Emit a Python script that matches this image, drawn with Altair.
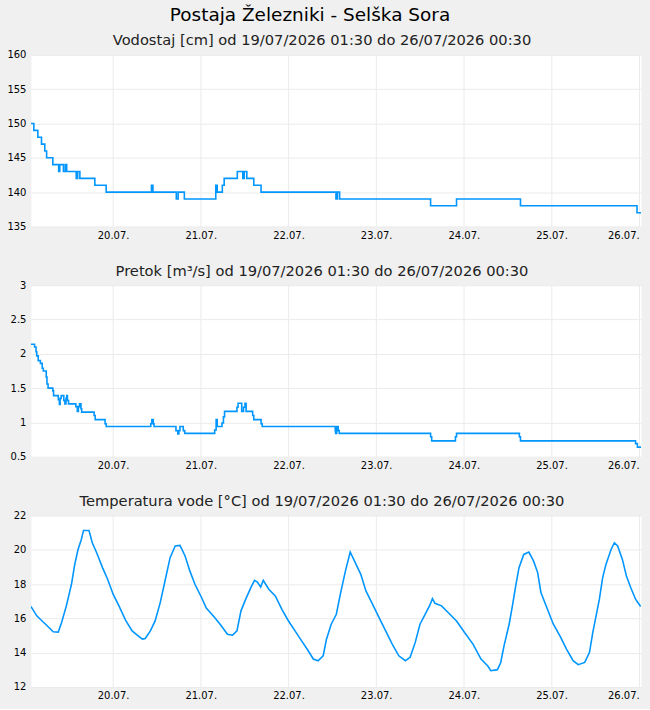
import altair as alt
import pandas as pd

START = "2026-07-19 01:30"

main_title = "Postaja Železniki - Selška Sora"
period = "od 19/07/2026 01:30 do 26/07/2026 00:30"
level_title = "Vodostaj [cm] " + period
flow_title = "Pretok [m³/s] " + period
temp_title = "Temperatura vode [°C] " + period

tick_days = [20, 21, 22, 23, 24, 25, 26]
level_ticks = [135, 140, 145, 150, 155, 160]
flow_ticks = [0.5, 1, 1.5, 2, 2.5, 3]
temp_ticks = [12, 14, 16, 18, 20, 22]

# Water level [cm]: change points (hours since start) and values
level_hours = [0.0, 0.8, 1.9, 2.9, 3.8, 4.3, 6.0, 7.6, 7.9, 8.9, 9.4, 9.8,
               12.4, 12.8, 13.4, 17.5, 20.6, 33.0, 33.4, 39.8, 40.3, 42.0,
               50.6, 51.0, 52.4, 52.9, 56.5, 58.0, 58.4, 59.1, 61.0, 63.0,
               83.5, 83.9, 84.5, 109.4, 116.5, 134.0, 165.9, 167.0]
level_values = [150, 149, 148, 147, 146, 145, 144, 143, 144, 143, 144, 143,
                142, 143, 142, 141, 140, 141, 140, 139, 140, 139,
                141, 140, 141, 142, 143, 142, 143, 142, 141, 140,
                139, 140, 139, 138, 139, 138, 137, 137]

# Discharge [m3/s]
flow_hours = [0.0, 1.0, 1.4, 1.6, 2.0, 2.6, 3.1, 3.4, 4.2, 4.4, 4.7, 6.0,
              6.2, 7.5, 7.8, 8.0, 8.3, 9.0, 9.3, 9.6, 9.8, 10.0, 10.3,
              12.3, 12.7, 13.0, 13.3, 13.7, 13.9, 17.3, 17.6, 20.3, 20.6,
              32.8, 33.1, 33.5, 33.7, 39.7, 40.2, 40.5, 40.8, 41.7, 42.1,
              50.3, 50.7, 51.0, 52.3, 52.7, 53.0, 56.4, 56.7, 57.7, 58.2,
              58.6, 58.9, 60.7, 61.0, 63.0, 63.3, 83.3, 83.4, 83.7, 84.1,
              84.4, 109.4, 109.7, 116.2, 116.5, 133.7, 134.0, 165.5, 166.0,
              167.0]
flow_values = [2.14, 2.10, 2.03, 1.97, 1.90, 1.86, 1.79, 1.75, 1.66, 1.56,
               1.50, 1.46, 1.39, 1.33, 1.26, 1.35, 1.39, 1.32, 1.27, 1.35,
               1.39, 1.32, 1.27, 1.23, 1.16, 1.23, 1.27, 1.20, 1.15, 1.10,
               1.04, 0.98, 0.94, 0.98, 1.04, 0.98, 0.94, 0.88, 0.83, 0.88,
               0.94, 0.88, 0.84, 0.89, 1.04, 0.94, 0.99, 1.08, 1.16, 1.22,
               1.28, 1.16, 1.22, 1.28, 1.16, 1.10, 1.04, 0.98, 0.94, 0.88,
               0.84, 0.94, 0.88, 0.84, 0.79, 0.73, 0.79, 0.84, 0.79, 0.73,
               0.69, 0.64, 0.64]

# Water temperature [°C]
temp_hours = [0.0, 1.6, 3.0, 4.3, 6.1, 7.5, 8.4, 9.7, 11.1, 12.0, 12.9,
              13.8, 14.4, 15.9, 16.8, 18.0, 19.6, 21.0, 22.5, 24.1, 25.9,
              27.7, 29.1, 30.5, 31.3, 32.7, 34.0, 35.4, 36.7, 38.1, 39.5,
              40.8, 42.2, 43.5, 44.9, 46.7, 48.0, 50.3, 52.1, 53.8, 55.2,
              56.4, 57.5, 58.8, 60.2, 61.2, 62.0, 62.9, 63.6, 65.1, 66.9,
              68.7, 70.5, 72.3, 74.1, 75.9, 77.3, 78.6, 80.0, 80.9, 82.2,
              83.6, 84.7, 86.1, 87.4, 89.0, 90.3, 91.7, 93.5, 95.3, 97.1,
              98.9, 100.7, 102.5, 103.8, 105.2, 106.5, 107.9, 109.2, 109.9,
              110.6, 112.4, 114.2, 116.5, 118.7, 121.0, 123.2, 125.0, 125.9,
              127.7, 128.6, 129.5, 130.9, 131.8, 132.7, 133.6, 134.9, 136.3,
              137.6, 138.7, 139.6, 141.2, 143.0, 144.8, 146.6, 148.4, 149.8,
              151.6, 152.9, 153.8, 154.7, 155.6, 156.5, 157.4, 158.8, 159.7,
              160.6, 161.9, 163.0, 164.2, 165.5, 166.9]
temp_values = [16.7, 16.15, 15.86, 15.6, 15.22, 15.2, 15.76, 16.73, 17.99,
               19.15, 20.02, 20.6, 21.13, 21.13, 20.41, 19.83, 18.96, 18.28,
               17.41, 16.73, 15.9, 15.27, 15.02, 14.79, 14.83, 15.27, 15.85,
               16.92, 18.18, 19.54, 20.22, 20.26, 19.64, 18.77, 17.99, 17.22,
               16.6, 16.05, 15.57, 15.08, 15.02, 15.27, 16.44, 17.12, 17.79,
               18.22, 18.12, 17.83, 18.22, 17.7, 17.31, 16.53, 15.85, 15.27,
               14.69, 14.11, 13.63, 13.53, 13.82, 14.79, 15.66, 16.24, 17.41,
               18.77, 19.87, 19.15, 18.57, 17.6, 16.83, 16.05, 15.27, 14.5,
               13.82, 13.53, 13.73, 14.6, 15.66, 16.24, 16.77, 17.15, 16.88,
               16.73, 16.34, 15.85, 15.18, 14.5, 13.63, 13.24, 12.95, 13.01,
               13.43, 14.4, 15.66, 16.73, 17.89, 18.96, 19.73, 19.87, 19.34,
               18.67, 17.51, 16.63, 15.66, 14.98, 14.21, 13.53, 13.3, 13.43,
               14.02, 15.18, 16.15, 17.12, 18.38, 19.15, 20.02, 20.41, 20.22,
               19.44, 18.47, 17.79, 17.12, 16.69]

BLUE = "#0096ff"
FONT = "DejaVu Sans"


def frame(hours, values):
    t = pd.Timestamp(START) + pd.to_timedelta(hours, unit="h")
    return pd.DataFrame({"t": t, "v": values})


x_domain = [alt.DateTime(year=2026, month=7, date=19, hours=1, minutes=30),
            alt.DateTime(year=2026, month=7, date=26, hours=0, minutes=30)]
x_values = [alt.DateTime(year=2026, month=7, date=d) for d in tick_days]


def panel(df, subtitle, ydom, yticks, interp):
    return alt.Chart(df).mark_line(
        color=BLUE, strokeWidth=1.6, interpolate=interp, clip=True
    ).encode(
        x=alt.X("t:T", scale=alt.Scale(domain=x_domain, nice=False),
                axis=alt.Axis(values=x_values, format="%d.%m.", title=None,
                              labelPadding=4, labelFlush=6)),
        y=alt.Y("v:Q", scale=alt.Scale(domain=ydom, nice=False, zero=False),
                axis=alt.Axis(values=yticks, format="~g", title=None,
                              labelPadding=5)),
    ).properties(
        width=612, height=172,
        title=alt.TitleParams(subtitle, fontSize=14.7, font=FONT,
                              fontWeight="normal", color="#222222",
                              anchor="middle", offset=2, dx=-14),
    )


p1 = panel(frame(level_hours, level_values), level_title, [135, 160],
           level_ticks, "step-after")
p2 = panel(frame(flow_hours, flow_values), flow_title, [0.5, 3],
           flow_ticks, "step-after")
p3 = panel(frame(temp_hours, temp_values), temp_title, [12, 22],
           temp_ticks, "linear")

chart = alt.concat(
    p1, p2, p3, columns=1, spacing=21,
    title=alt.TitleParams(main_title, fontSize=18.5, font=FONT,
                          fontWeight="normal", anchor="middle", color="black",
                          offset=8.5, dx=-14),
).properties(
    padding={"left": 6, "right": 8, "top": 4, "bottom": 6},
    background="#f0f0f0",
).configure_view(
    fill="white", stroke="transparent"
).configure_axis(
    domain=False, ticks=False, gridColor="#ebebeb", gridWidth=1,
    labelFont=FONT, labelFontSize=10, labelColor="black",
)

chart.save("out.html", embed_options={"renderer": "svg", "actions": False})
